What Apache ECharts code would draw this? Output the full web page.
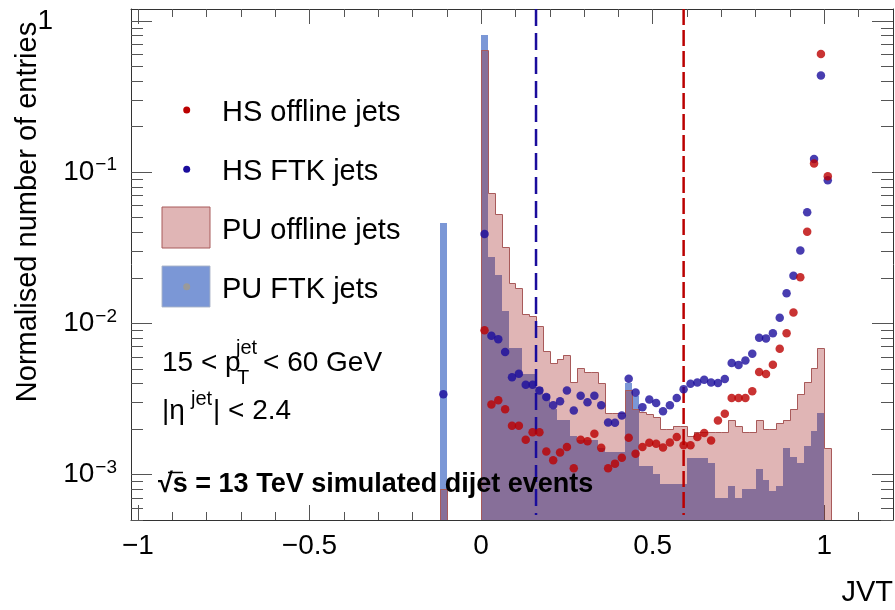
<!DOCTYPE html>
<html><head><meta charset="utf-8">
<script src="https://cdn.jsdelivr.net/npm/echarts@6/dist/echarts.min.js"></script>
<style>html,body{margin:0;padding:0;background:#fff}#c{width:895px;height:610px}</style>
</head><body><div id="c"></div>
<script>
// ---- data ----
const binWidth = 0.02;
const binCenters = [-0.11,
  0.01,0.03,0.05,0.07,0.09,0.11,0.13,0.15,0.17,0.19,0.21,0.23,0.25,0.27,0.29,0.31,0.33,0.35,0.37,0.39,
  0.41,0.43,0.45,0.47,0.49,0.51,0.53,0.55,0.57,0.59,0.61,0.63,0.65,0.67,0.69,0.71,0.73,0.75,0.77,0.79,
  0.81,0.83,0.85,0.87,0.89,0.91,0.93,0.95,0.97,0.99,1.01];
const puOffline = [0.0008,
  0.64,0.073,0.053,0.032,0.0184,0.0171,0.0115,0.0111,0.0096,0.0066,0.0055,0.0058,0.0062,0.0041,0.0051,0.0048,0.0048,0.0040,0.00255,0.00255,
  0.00255,0.0036,0.0027,0.0026,0.0025,0.0024,0.0020,0.0020,0.0021,0.0021,0.0018,0.0019,0.0019,0.0019,0.0019,0.0019,0.0023,0.0021,0.0019,0.0019,
  0.0023,0.0020,0.0020,0.0022,0.0023,0.0027,0.0034,0.0041,0.0051,0.0069,0.0015];
const puFTK = [0.046,
  0.81,0.0276,0.021,0.0121,0.0069,0.0069,0.0046,0.0046,0.0038,0.0034,0.0027,0.0023,0.0023,0.0018,0.0017,0.0017,0.0017,0.0015,0.0014,0.0014,
  0.0014,0.0040,0.0033,0.00113,0.00113,0.0010,0.00086,0.00086,0.00086,0.00086,0.00129,0.00129,0.00129,0.0012,0.0007,0.0007,0.00084,0.0007,0.0008,0.0008,
  0.00108,0.00092,0.00078,0.00084,0.0015,0.0013,0.0012,0.00154,0.00193,0.00255,0];
const hsOffline = [null,
  0.0090,0.0029,0.0031,0.0027,0.0021,0.0021,0.0017,0.0019,0.0019,0.00142,0.00124,0.0014,0.00152,0.0011,0.0017,0.00166,0.00186,0.0015,0.0011,0.00118,
  0.00129,0.00175,0.00137,0.00152,0.00162,0.0016,0.00151,0.00163,0.00177,0.00156,0.00156,0.00177,0.00188,0.00168,0.00228,0.00252,0.00321,0.00321,0.00321,0.00355,
  0.00476,0.00462,0.00532,0.00679,0.00861,0.0118,0.0202,0.0403,0.114,0.605,0.0938];
const hsFTK = [0.0034,
  0.039,0.00827,0.00786,0.00645,0.00439,0.00464,0.00393,0.00393,0.0036,0.00325,0.00287,0.00305,0.0036,0.00265,0.00332,0.0030,0.00332,0.00287,0.00221,0.0022,
  0.00246,0.0043,0.00349,0.00279,0.00313,0.00297,0.00262,0.00287,0.00321,0.00367,0.00398,0.00406,0.00424,0.00406,0.00403,0.00428,0.00546,0.00531,0.00568,0.00629,
  0.00802,0.00795,0.00861,0.0109,0.0158,0.0206,0.0303,0.0542,0.122,0.436,0.0883];
const ftkCut = 0.16;
const offlineCut = 0.59;
const xMajorTicks = [-1, -0.5, 0, 0.5, 1];
const xMinorTicks = [-1,-0.9,-0.8,-0.7,-0.6,-0.5,-0.4,-0.3,-0.2,-0.1,0,0.1,0.2,0.3,0.4,0.5,0.6,0.7,0.8,0.9,1,1.1];
const yMajorTicks = [0.001, 0.01, 0.1, 1];
const yMinorTicks = [0.0005,0.0006,0.0007,0.0008,0.0009,0.002,0.003,0.004,0.005,0.006,0.007,0.008,0.009,
  0.02,0.03,0.04,0.05,0.06,0.07,0.08,0.09,0.2,0.3,0.4,0.5,0.6,0.7,0.8,0.9];
const legendNames = ['HS offline jets', 'HS FTK jets', 'PU offline jets', 'PU FTK jets'];

// ---- style ----
const X_MIN = -1.02, X_MAX = 1.2, Y_MIN = 5e-4, Y_MAX = 1.2;
const FONT = '"Liberation Sans", Arial, Helvetica, sans-serif';
const C_RED = '#bb0000', C_BLUE = '#1a0c9c';
const C_PU_OFF_FILL = 'rgba(160,30,30,0.33)', C_PU_OFF_LINE = '#a85a5a';
const C_PU_FTK_FILL = '#7b97d6', C_PU_FTK_LINE = 'rgba(170,180,200,0.9)';

function contiguous(i, j) {
  return j >= 0 && j < binCenters.length && Math.abs(Math.abs(binCenters[j] - binCenters[i]) - binWidth) < 1e-6;
}
function histData(vals) {
  const out = [];
  for (let i = 0; i < vals.length; i++) {
    if (!(vals[i] > 0)) continue;
    const pv = contiguous(i, i - 1) ? vals[i - 1] : 0;
    const nv = contiguous(i, i + 1) ? vals[i + 1] : 0;
    out.push([binCenters[i] - binWidth / 2, binCenters[i] + binWidth / 2, vals[i], pv || 0, nv || 0]);
  }
  return out;
}
function histRender(fill, stroke, lw) {
  return function (params, api) {
    const x0 = api.value(0), x1 = api.value(1), v = api.value(2), pv = api.value(3), nv = api.value(4);
    const tl = api.coord([x0, v]), tr = api.coord([x1, v]);
    const xl = Math.round(tl[0]), xr = Math.round(tr[0]), yt = Math.round(tl[1]);
    const yb = Math.round(api.coord([x0, Y_MIN])[1]);
    const ypv = pv > 0 ? Math.round(api.coord([x0, pv])[1]) : yb;
    const pts = [[xl + 0.5, ypv + 0.5], [xl + 0.5, yt + 0.5], [xr + 0.5, yt + 0.5]];
    if (!(nv > 0)) pts.push([xr + 0.5, yb + 0.5]);
    const children = [{ type: 'rect', shape: { x: xl, y: yt, width: xr - xl, height: yb - yt }, style: { fill: fill } }];
    if (stroke) children.push({ type: 'polyline', shape: { points: pts }, style: { stroke: stroke, lineWidth: lw, fill: null } });
    return { type: 'group', children: children };
  };
}
function points(vals) {
  const out = [];
  vals.forEach((v, i) => { if (v != null && v > 0) out.push([binCenters[i], v]); });
  return out;
}

const tickColor = '#555';
function xAx(pos, ticks, len, main) {
  return {
    type: 'value', min: X_MIN, max: X_MAX, position: pos,
    axisLine: { show: main, onZero: false, lineStyle: { color: '#333', width: 1 } },
    axisTick: { show: true, inside: true, length: len, customValues: ticks, lineStyle: { color: tickColor, width: 1 } },
    axisLabel: (main && pos === 'bottom') ? {
      show: true, customValues: ticks, margin: 12, fontSize: 28, color: '#000', fontFamily: FONT,
      formatter: v => (v < 0 ? '\u2212' : '') + Math.abs(v)
    } : { show: false },
    splitLine: { show: false }
  };
}
function yAx(pos, ticks, len, main) {
  return {
    type: 'log', logBase: 10, min: Y_MIN, max: Y_MAX, position: pos,
    axisLine: { show: main, onZero: false, lineStyle: { color: '#333', width: 1 } },
    axisTick: { show: true, inside: true, length: len, customValues: ticks, lineStyle: { color: tickColor, width: 1 } },
    axisLabel: (main && pos === 'left') ? {
      show: true, customValues: ticks, margin: 14, color: '#000', fontFamily: FONT,
      formatter: v => {
        const e = Math.round(Math.log10(v));
        return e === 0 ? '{one|1}' : '{b|10}{s|\u2212' + (-e) + '}';
      },
      rich: {
        one: { fontSize: 28, fontFamily: FONT, color: '#000', padding: [0, 64, 0, 0] },
        b: { fontSize: 28, fontFamily: FONT, color: '#000' },
        s: { fontSize: 19, fontFamily: FONT, color: '#000', verticalAlign: 'bottom', padding: [0, 0, 14, 1] }
      }
    } : { show: false },
    splitLine: { show: false }
  };
}

const chart = echarts.init(document.getElementById('c'), null, { renderer: 'canvas' });
const option = {
  animation: false,
  backgroundColor: '#fff',
  grid: { left: 131, right: 2, top: 9, bottom: 90, containLabel: false, outerBoundsMode: 'none' },
  xAxis: [xAx('bottom', xMajorTicks, 15, true), xAx('bottom', xMinorTicks, 8, false),
          xAx('top', xMajorTicks, 15, true), xAx('top', xMinorTicks, 8, false)],
  yAxis: [yAx('left', yMajorTicks, 21, true), yAx('left', yMinorTicks, 12, false),
          yAx('right', yMajorTicks, 21, true), yAx('right', yMinorTicks, 12, false)],
  series: [
    { name: legendNames[3], type: 'custom', clip: true, z: 1, renderItem: histRender(C_PU_FTK_FILL, null, 1),
      encode: { x: [0, 1], y: 2 }, data: histData(puFTK) },
    { name: legendNames[2], type: 'custom', clip: true, z: 2, renderItem: histRender(C_PU_OFF_FILL, C_PU_OFF_LINE, 1),
      encode: { x: [0, 1], y: 2 }, data: histData(puOffline) },
    { name: 'FTK cut', type: 'line', z: 3, showSymbol: false, silent: true,
      lineStyle: { color: C_BLUE, width: 2.5, type: [17, 7] }, data: [[ftkCut, Y_MAX], [ftkCut, 5.4e-4]] },
    { name: 'offline cut', type: 'line', z: 3, showSymbol: false, silent: true,
      lineStyle: { color: C_RED, width: 2.5, type: [16, 5] }, data: [[offlineCut, Y_MAX], [offlineCut, 5.4e-4]] },
    { name: legendNames[1], type: 'scatter', z: 4, symbol: 'circle', symbolSize: 8.5, itemStyle: { color: C_BLUE }, data: points(hsFTK) },
    { name: legendNames[0], type: 'scatter', z: 5, symbol: 'circle', symbolSize: 8.5, itemStyle: { color: C_RED }, data: points(hsOffline) }
  ],
  graphic: [
    // legend
    { type: 'circle', shape: { cx: 186.7, cy: 110, r: 3.5 }, style: { fill: C_RED }, z: 10 },
    { type: 'circle', shape: { cx: 186.7, cy: 169.3, r: 3.5 }, style: { fill: C_BLUE }, z: 10 },
    { type: 'rect', shape: { x: 162, y: 207, width: 48, height: 41 }, style: { fill: C_PU_OFF_FILL, stroke: C_PU_OFF_LINE, lineWidth: 1 }, z: 10 },
    { type: 'rect', shape: { x: 162, y: 266, width: 48, height: 41 }, style: { fill: C_PU_FTK_FILL, stroke: C_PU_FTK_LINE, lineWidth: 1 }, z: 10 },
    { type: 'circle', shape: { cx: 186.7, cy: 286.7, r: 3.5 }, style: { fill: '#9a9a9a' }, z: 11 },
    { type: 'text', x: 222, y: 113, z: 10, style: { text: legendNames[0], fontSize: 29, fontFamily: FONT, fill: '#000', verticalAlign: 'middle' } },
    { type: 'text', x: 222, y: 172, z: 10, style: { text: legendNames[1], fontSize: 29, fontFamily: FONT, fill: '#000', verticalAlign: 'middle' } },
    { type: 'text', x: 222, y: 231, z: 10, style: { text: legendNames[2], fontSize: 29, fontFamily: FONT, fill: '#000', verticalAlign: 'middle' } },
    { type: 'text', x: 222, y: 290, z: 10, style: { text: legendNames[3], fontSize: 29, fontFamily: FONT, fill: '#000', verticalAlign: 'middle' } },
    // kinematic labels
    { type: 'text', x: 162, y: 363, z: 10, style: { text: '15 < p', fontSize: 28, fontFamily: FONT, fill: '#000', verticalAlign: 'middle' } },
    { type: 'text', x: 236, y: 348, z: 10, style: { text: 'jet', fontSize: 20, fontFamily: FONT, fill: '#000', verticalAlign: 'middle' } },
    { type: 'text', x: 237, y: 378, z: 10, style: { text: 'T', fontSize: 20, fontFamily: FONT, fill: '#000', verticalAlign: 'middle' } },
    { type: 'text', x: 263, y: 363, z: 10, style: { text: '< 60 GeV', fontSize: 28, fontFamily: FONT, fill: '#000', verticalAlign: 'middle' } },
    { type: 'text', x: 162, y: 411, z: 10, style: { text: '|\u03b7', fontSize: 28, fontFamily: FONT, fill: '#000', verticalAlign: 'middle' } },
    { type: 'text', x: 191, y: 399, z: 10, style: { text: 'jet', fontSize: 20, fontFamily: FONT, fill: '#000', verticalAlign: 'middle' } },
    { type: 'text', x: 213, y: 411, z: 10, style: { text: '| < 2.4', fontSize: 28, fontFamily: FONT, fill: '#000', verticalAlign: 'middle' } },
    { type: 'text', x: 158, y: 485, z: 10, style: { text: '\u221as = 13 TeV simulated dijet events', fontSize: 27, fontWeight: 'bold', fontFamily: FONT, fill: '#000', verticalAlign: 'middle' } },
    { type: 'line', z: 10, shape: { x1: 168, y1: 472.5, x2: 183, y2: 472.5 }, style: { stroke: '#000', lineWidth: 1.5 } },
    // axis titles
    { type: 'text', x: 28, y: 212, rotation: Math.PI / 2, z: 10, style: { text: 'Normalised number of entries', fontSize: 29, fontFamily: FONT, fill: '#000', align: 'center', verticalAlign: 'middle' } },
    { type: 'text', x: 893, y: 593, z: 10, style: { text: 'JVT', fontSize: 29, fontFamily: FONT, fill: '#000', align: 'right', verticalAlign: 'middle' } }
  ]
};
chart.setOption(option);
</script>
</body></html>
